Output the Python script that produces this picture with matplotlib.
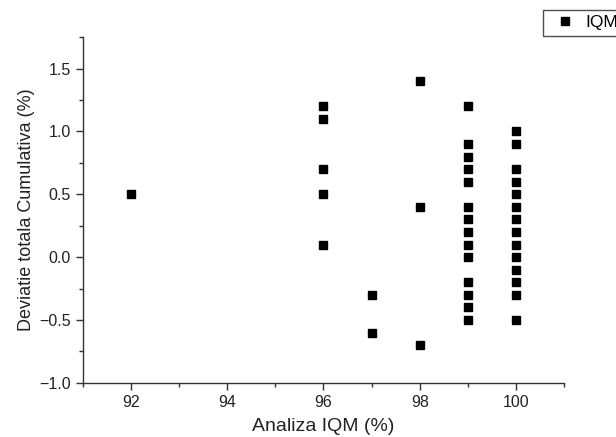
import matplotlib
matplotlib.use("Agg")
from matplotlib import pyplot as plt
from matplotlib.ticker import MultipleLocator

plt.rcParams['font.family'] = ['Liberation Sans', 'DejaVu Sans']

# analiza IQM (%) and deviatie totala cumulativa (%)
x_92 = [92]
y_92 = [0.5]
x_96 = [96] * 5
y_96 = [1.2, 1.1, 0.7, 0.5, 0.1]
x_97 = [97] * 2
y_97 = [-0.3, -0.6]
x_98 = [98] * 3
y_98 = [1.4, 0.4, -0.7]
x_99 = [99] * 14
y_99 = [1.2, 0.9, 0.8, 0.7, 0.6, 0.4, 0.3, 0.2, 0.1, 0.0, -0.2, -0.3, -0.4, -0.5]
x_100 = [100] * 14
y_100 = [1.0, 0.9, 0.7, 0.6, 0.5, 0.4, 0.3, 0.2, 0.1, 0.0, -0.1, -0.2, -0.3, -0.5]

xs = x_92 + x_96 + x_97 + x_98 + x_99 + x_100
ys = y_92 + y_96 + y_97 + y_98 + y_99 + y_100

fig = plt.figure(figsize=(6.16, 4.37), dpi=100)
ax = fig.add_axes([0.134, 0.124, 0.782, 0.791])

ax.plot(xs, ys, linestyle='none', marker='s', markersize=5.8, color='black', label='IQM')

ax.set_xlim(91, 101)
ax.set_ylim(-1.0, 1.75)
ax.xaxis.set_major_locator(MultipleLocator(2))
ax.xaxis.set_minor_locator(MultipleLocator(1))
ax.yaxis.set_major_locator(MultipleLocator(0.5))
ax.yaxis.set_minor_locator(MultipleLocator(0.25))
ax.set_xticks([92, 94, 96, 98, 100])

for s in ['top', 'right']:
    ax.spines[s].set_visible(False)
for s in ['left', 'bottom']:
    ax.spines[s].set_color('#333333')
    ax.spines[s].set_linewidth(1.0)

ax.tick_params(which='major', direction='out', length=5, width=1, colors='#333333', labelsize=11.5, labelcolor='#222222')
ax.tick_params(which='minor', direction='out', length=3, width=1, colors='#333333')

ax.set_xlabel('Analiza IQM (%)', fontsize=14, color='#222222', labelpad=6)
ax.set_ylabel('Deviatie totala Cumulativa (%)', fontsize=13, color='#222222', labelpad=3)

leg = fig.legend(loc='upper left', bbox_to_anchor=(543 / 616, 1 - 10 / 437), frameon=True,
                 fancybox=False, fontsize=12.5, handlelength=1.9, handletextpad=0.25,
                 borderpad=0.3, borderaxespad=0)
leg.get_frame().set_edgecolor('#222222')
leg.get_frame().set_linewidth(1.0)

fig.savefig('out.png', dpi=100)
